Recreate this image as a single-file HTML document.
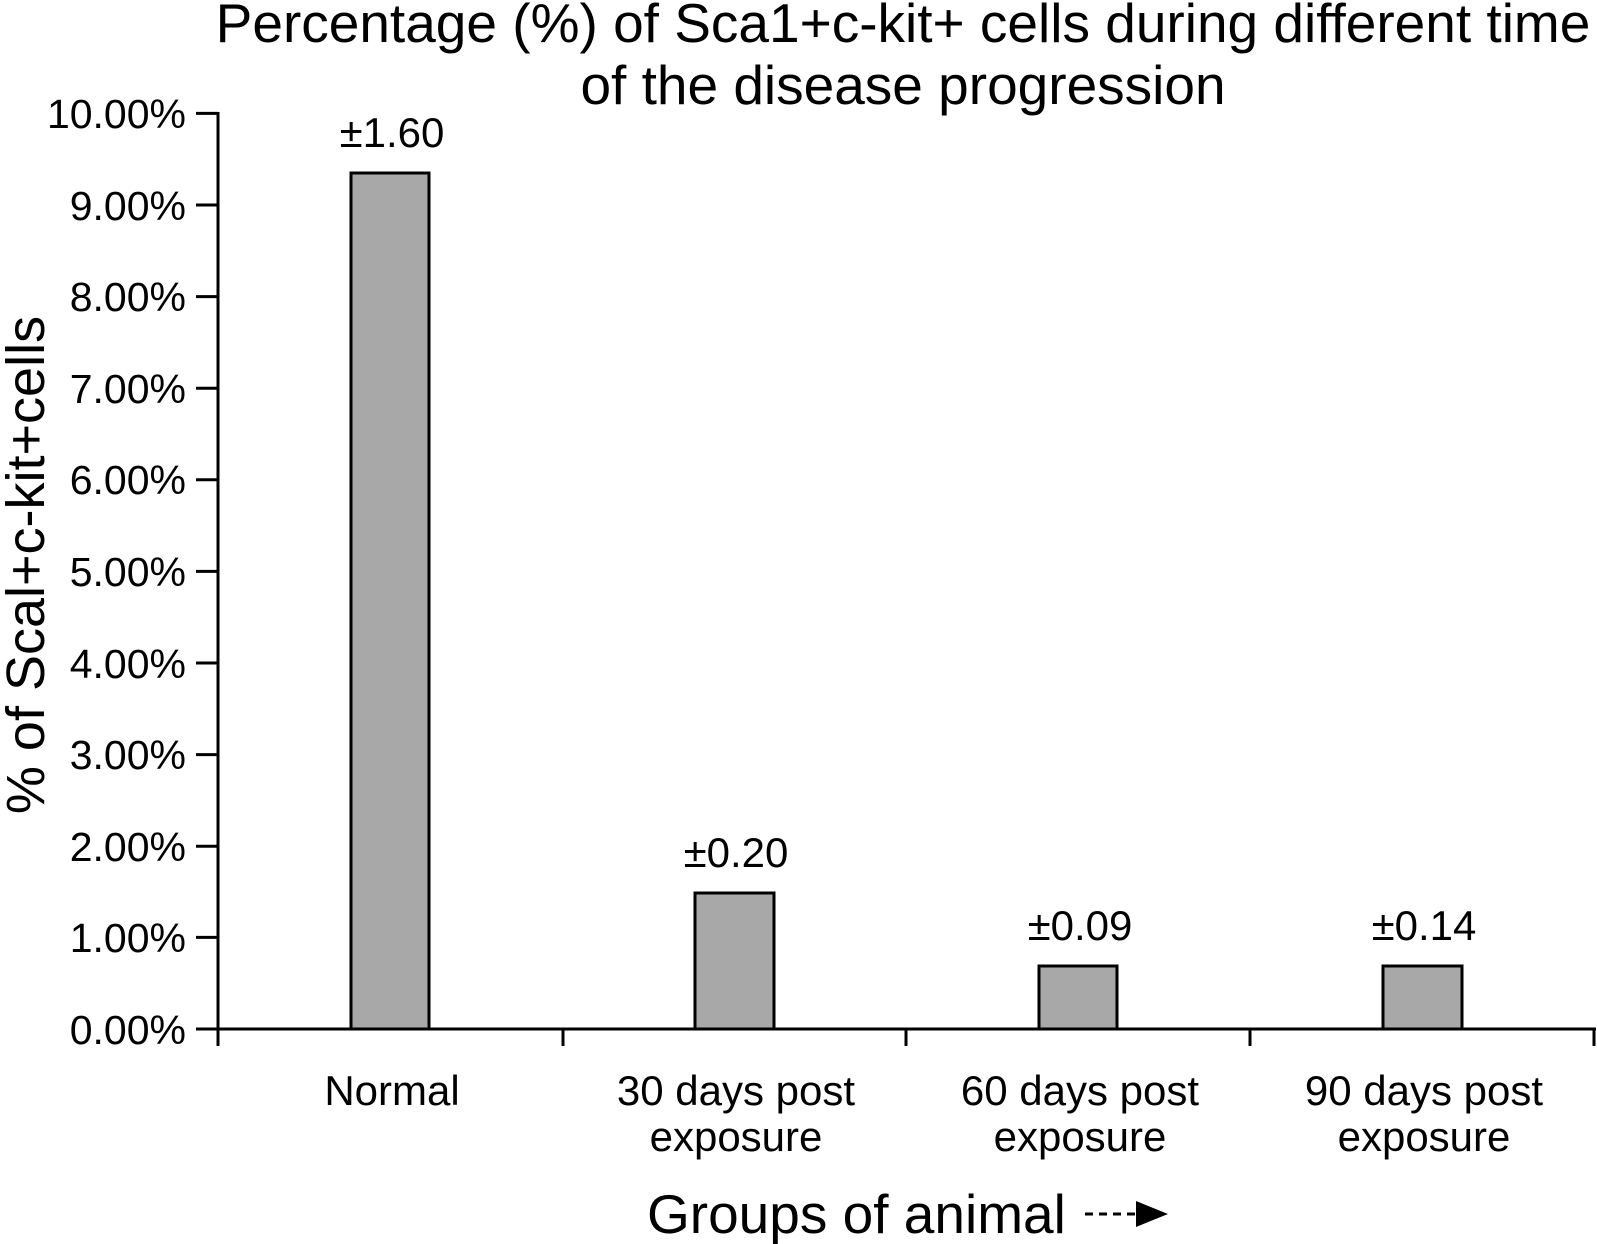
<!DOCTYPE html>
<html><head><style>
body{margin:0;background:#fff;}
svg{display:block;font-family:"Liberation Sans",Arial,sans-serif;}
</style></head><body>
<svg width="1597" height="1244" viewBox="0 0 1597 1244">
<g font-size="55" text-anchor="middle" fill="#000">
<text x="903" y="42">Percentage (%) of Sca1+c-kit+ cells during different time</text>
<text x="903" y="104">of the disease progression</text>
</g>
<g stroke="#000" stroke-width="3" fill="none">
<line x1="218" y1="112" x2="218" y2="1046"/>
<line x1="196" y1="1029" x2="1596" y2="1029"/>
<line x1="563" y1="1029" x2="563" y2="1046"/>
<line x1="906" y1="1029" x2="906" y2="1046"/>
<line x1="1250" y1="1029" x2="1250" y2="1046"/>
<line x1="1594" y1="1029" x2="1594" y2="1046"/>
<line x1="196" y1="113.4" x2="218" y2="113.4"/>
<line x1="196" y1="205" x2="218" y2="205"/>
<line x1="196" y1="296.6" x2="218" y2="296.6"/>
<line x1="196" y1="388.2" x2="218" y2="388.2"/>
<line x1="196" y1="479.8" x2="218" y2="479.8"/>
<line x1="196" y1="571.4" x2="218" y2="571.4"/>
<line x1="196" y1="663" x2="218" y2="663"/>
<line x1="196" y1="754.6" x2="218" y2="754.6"/>
<line x1="196" y1="846.2" x2="218" y2="846.2"/>
<line x1="196" y1="937.4" x2="218" y2="937.4"/>
</g>
<g font-size="41" text-anchor="end">
<text x="186" y="128">10.00%</text>
<text x="186" y="220">9.00%</text>
<text x="186" y="311">8.00%</text>
<text x="186" y="403">7.00%</text>
<text x="186" y="494">6.00%</text>
<text x="186" y="586">5.00%</text>
<text x="186" y="678">4.00%</text>
<text x="186" y="769">3.00%</text>
<text x="186" y="861">2.00%</text>
<text x="186" y="952">1.00%</text>
<text x="186" y="1044">0.00%</text>
</g>
<text transform="translate(44,565) rotate(-90)" font-size="54" text-anchor="middle">% of Scal+c-kit+cells</text>
<g fill="#a8a8a8" stroke="#000" stroke-width="3">
<rect x="351" y="173" width="78" height="856"/>
<rect x="695" y="893" width="79" height="136"/>
<rect x="1039" y="966" width="78" height="63"/>
<rect x="1383" y="966" width="79" height="63"/>
</g>
<g font-size="42" text-anchor="middle">
<text x="392" y="147">±1.60</text>
<text x="736" y="867">±0.20</text>
<text x="1080" y="940">±0.09</text>
<text x="1424" y="940">±0.14</text>
<text x="392" y="1105">Normal</text>
<text x="736" y="1105">30 days post</text>
<text x="736" y="1151">exposure</text>
<text x="1080" y="1105">60 days post</text>
<text x="1080" y="1151">exposure</text>
<text x="1424" y="1105">90 days post</text>
<text x="1424" y="1151">exposure</text>
</g>
<text x="647" y="1233" font-size="55">Groups of animal</text>
<line x1="1085" y1="1214" x2="1138" y2="1214" stroke="#000" stroke-width="3" stroke-dasharray="8,6"/>
<polygon points="1136,1201 1168,1214 1136,1227" fill="#000"/>
</svg>
</body></html>
